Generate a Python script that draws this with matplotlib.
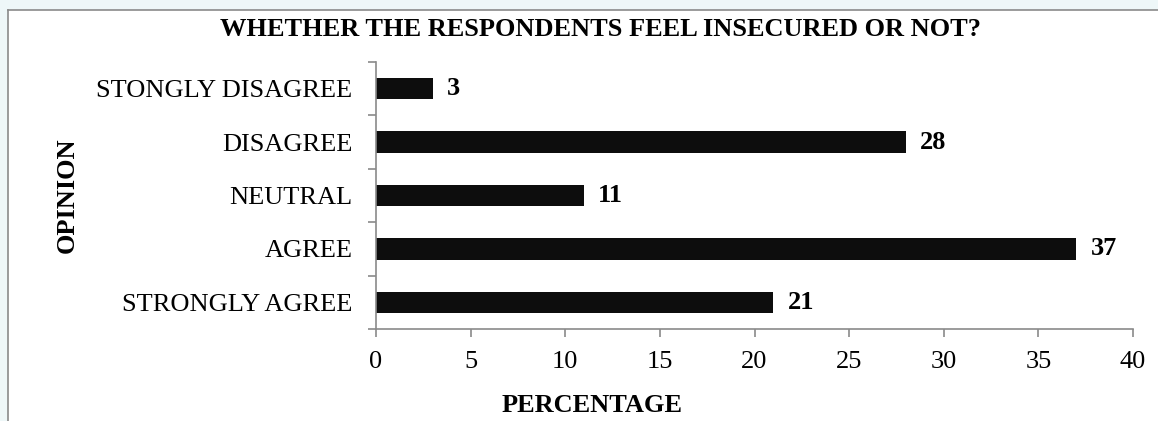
import matplotlib
matplotlib.use("Agg")
import matplotlib.pyplot as plt
from matplotlib.patches import Rectangle
import numpy as np

categories = ["STRONGLY AGREE", "AGREE", "NEUTRAL", "DISAGREE", "STONGLY DISAGREE"]
values = [21, 37, 11, 28, 3]
xticks = [0, 5, 10, 15, 20, 25, 30, 35, 40]

title = "WHETHER THE RESPONDENTS FEEL INSECURED OR NOT?"
xlabel = "PERCENTAGE"
ylabel = "OPINION"

plt.rcParams['font.family'] = ['Liberation Serif', 'DejaVu Serif']

W, H = 1158, 421
fig = plt.figure(figsize=(W / 100, H / 100), dpi=100)
fig.patch.set_facecolor('#eef7f8')

# white chart box with gray border on left and top
box = Rectangle((8 / W, 0), 1 - 8 / W, 1 - 10 / H, transform=fig.transFigure,
                facecolor='white', edgecolor='none', zorder=-5)
fig.patches.append(box)
fig.add_artist(plt.Line2D([8 / W, 8 / W], [0, 1 - 10 / H], transform=fig.transFigure,
                          color='#8a8a8a', lw=1.2, zorder=-4))
fig.add_artist(plt.Line2D([8 / W, 1], [1 - 10 / H, 1 - 10 / H], transform=fig.transFigure,
                          color='#8a8a8a', lw=1.2, zorder=-4))

left, right = 376 / W, 1133 / W
bottom, top = 1 - 329 / H, 1 - 62 / H
ax = fig.add_axes([left, bottom, right - left, top - bottom])
ax.set_zorder(5)
ax.set_facecolor('none')

y = np.arange(len(categories))
ax.barh(y, values, height=0.4, color='#0d0d0d')
for yi, v in zip(y, values):
    ax.text(v + 0.75, yi, str(v), va='center', ha='left', fontsize=19, fontweight='bold')

ax.set_xlim(0, 40)
ax.set_ylim(-0.5, len(categories) - 0.5)
ax.set_xticks(xticks)
ax.set_xticklabels([str(t) for t in xticks], fontsize=19)
ax.set_yticks(y)
ax.set_yticklabels(categories, fontsize=19)
ax.set_yticks(np.arange(-0.5, len(categories), 1.0), minor=True)

for s in ['top', 'right']:
    ax.spines[s].set_visible(False)
for s in ['left', 'bottom']:
    ax.spines[s].set_color('#8a8a8a')
    ax.spines[s].set_linewidth(1.2)

ax.tick_params(axis='y', which='major', length=0, pad=17)
ax.tick_params(axis='y', which='minor', length=6, color='#8a8a8a', width=1.2, direction='out')
ax.tick_params(axis='x', which='major', length=6, color='#8a8a8a', width=1.2, direction='out', pad=10)

fig.text(600 / W, 1 - 30 / H, title, ha='center', va='center', fontsize=19, fontweight='bold')
fig.text(592 / W, 1 - 406 / H, xlabel, ha='center', va='center', fontsize=19, fontweight='bold')
fig.text(67 / W, 1 - 195 / H, ylabel, ha='center', va='center', rotation=90,
         fontsize=19, fontweight='bold')

fig.savefig("out.png", dpi=100, facecolor=fig.get_facecolor())
